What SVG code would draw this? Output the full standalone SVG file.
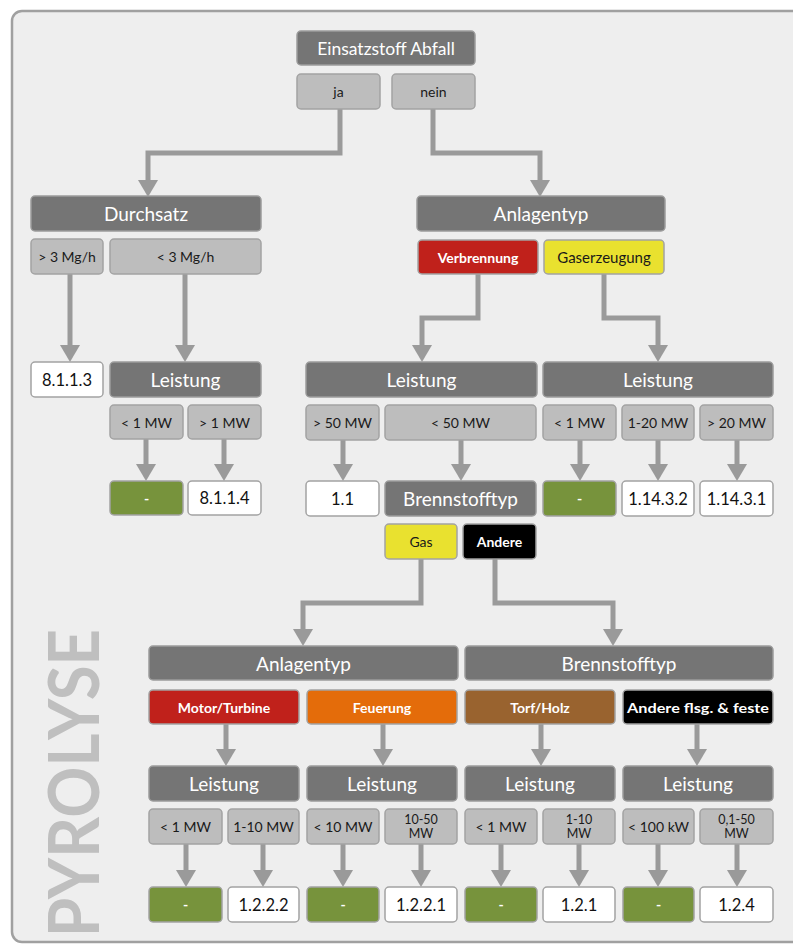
<svg xmlns="http://www.w3.org/2000/svg" width="793" height="945" viewBox="0 0 793 945">
<style>
text{font-family:Lato,"Open Sans","Liberation Sans",sans-serif;text-anchor:middle;dominant-baseline:central}
.dk{fill:#757575;stroke:#9c9c9c;stroke-width:1.5}
.lt{fill:#bdbdbd;stroke:#a3a3a3;stroke-width:1.5}
.wh{fill:#ffffff;stroke:#a3a3a3;stroke-width:1.5}
.gr{fill:#77933c;stroke:#a3a3a3;stroke-width:1.5}
.rd{fill:#c0211b;stroke:#a3a3a3;stroke-width:1.5}
.ye{fill:#e9e12f;stroke:#a3a3a3;stroke-width:1.5}
.or{fill:#e46c0a;stroke:#a3a3a3;stroke-width:1.5}
.br{fill:#99632f;stroke:#a3a3a3;stroke-width:1.5}
.bk{fill:#000000;stroke:#a3a3a3;stroke-width:1.5}
.th{fill:#ffffff;font-size:19px}
.tl{fill:#1a1a1a;font-size:14px}
.t2{fill:#1a1a1a;font-size:12.5px}
.tw{fill:#111111;font-size:16.5px}
.tc{fill:#ffffff;font-size:14px;font-weight:bold}
.tcd{fill:#1a1a1a;font-size:14px}
.conn{fill:none;stroke:#9a9a9a;stroke-width:5}
</style>
<defs>
<marker id="ah" viewBox="0 0 17 20" refX="8" refY="10" markerWidth="17" markerHeight="20" markerUnits="userSpaceOnUse" orient="auto">
<polygon points="0,0 17,10 0,20" fill="#9a9a9a"/>
</marker>
</defs>
<rect x="0" y="0" width="793" height="945" fill="#ffffff"/>
<rect x="12" y="11" width="800" height="931" rx="10" fill="#eeeeee" stroke="#a0a0a0" stroke-width="2.5"/>
<text transform="translate(99,783) rotate(-90)" x="0" y="0" style="dominant-baseline:auto;font-size:70px;font-weight:bold;fill:#bfbfbf" textLength="308" lengthAdjust="spacingAndGlyphs">PYROLYSE</text>

<g id="connectors" marker-end="url(#ah)">
<path class="conn" d="M340,109 V153 H148 V188"/>
<path class="conn" d="M433,109 V153 H540 V188"/>
<path class="conn" d="M70,274 V353"/>
<path class="conn" d="M185,274 V353"/>
<path class="conn" d="M146,439 V472"/>
<path class="conn" d="M224,439 V472"/>
<path class="conn" d="M478,274 V318 H422 V353"/>
<path class="conn" d="M604,274 V318 H658 V353"/>
<path class="conn" d="M343,440 V472"/>
<path class="conn" d="M461,440 V472"/>
<path class="conn" d="M580,440 V472"/>
<path class="conn" d="M658,440 V472"/>
<path class="conn" d="M737,440 V472"/>
<path class="conn" d="M421,559 V603 H303 V637"/>
<path class="conn" d="M495,559 V603 H613 V637"/>
<path class="conn" d="M226,724 V757"/>
<path class="conn" d="M383,724 V757"/>
<path class="conn" d="M541,724 V757"/>
<path class="conn" d="M697,724 V757"/>
<path class="conn" d="M186,844 V878"/>
<path class="conn" d="M263,844 V878"/>
<path class="conn" d="M343,844 V878"/>
<path class="conn" d="M421,844 V878"/>
<path class="conn" d="M501,844 V878"/>
<path class="conn" d="M579,844 V878"/>
<path class="conn" d="M658,844 V878"/>
<path class="conn" d="M737,844 V878"/>
</g>

<g id="n_einsatz"><rect class="dk" x="297" y="31" width="178" height="34" rx="4"/><text class="th" x="386" y="48" style="font-size:17.5px">Einsatzstoff Abfall</text></g>
<g id="n_ja"><rect class="lt" x="297" y="74" width="83" height="35" rx="4"/><text class="tl" x="338.5" y="91.5">ja</text></g>
<g id="n_nein"><rect class="lt" x="392" y="74" width="83" height="35" rx="4"/><text class="tl" x="433.5" y="91.5">nein</text></g>

<g id="n_durchsatz"><rect class="dk" x="31" y="196" width="230" height="35" rx="4"/><text class="th" x="146" y="213.5">Durchsatz</text></g>
<g id="n_gt3"><rect class="lt" x="31" y="239" width="72" height="35" rx="4"/><text class="tl" x="67" y="256.5">&gt; 3 Mg/h</text></g>
<g id="n_lt3"><rect class="lt" x="110" y="239" width="151" height="35" rx="4"/><text class="tl" x="185.5" y="256.5">&lt; 3 Mg/h</text></g>
<g id="n_8113"><rect class="wh" x="31" y="362" width="72" height="35" rx="4"/><text class="tw" x="67" y="379.5">8.1.1.3</text></g>
<g id="n_leist1"><rect class="dk" x="110" y="362" width="151" height="35" rx="4"/><text class="th" x="185.5" y="379.5">Leistung</text></g>
<g id="n_lt1a"><rect class="lt" x="110" y="405" width="73" height="34" rx="4"/><text class="tl" x="146.5" y="422">&lt; 1 MW</text></g>
<g id="n_gt1a"><rect class="lt" x="188" y="405" width="73" height="34" rx="4"/><text class="tl" x="224.5" y="422">&gt; 1 MW</text></g>
<g id="n_dash1"><rect class="gr" x="110" y="481" width="73" height="34" rx="4"/><text class="tc" x="146.5" y="498">-</text></g>
<g id="n_8114"><rect class="wh" x="188" y="481" width="73" height="34" rx="4"/><text class="tw" x="224.5" y="498">8.1.1.4</text></g>

<g id="n_anlagentyp"><rect class="dk" x="417" y="196" width="248" height="35" rx="4"/><text class="th" x="541" y="213.5">Anlagentyp</text></g>
<g id="n_verbrennung"><rect class="rd" x="418" y="240" width="120" height="34" rx="4"/><text class="tc" x="478" y="257">Verbrennung</text></g>
<g id="n_gaserzeugung"><rect class="ye" x="544" y="240" width="120" height="34" rx="4"/><text class="tcd" x="604" y="257" style="font-size:15px">Gaserzeugung</text></g>
<g id="n_leist2"><rect class="dk" x="306" y="362" width="231" height="35" rx="4"/><text class="th" x="421.5" y="379.5">Leistung</text></g>
<g id="n_leist3"><rect class="dk" x="543" y="362" width="230" height="35" rx="4"/><text class="th" x="658" y="379.5">Leistung</text></g>
<g id="n_gt50"><rect class="lt" x="306" y="405" width="73" height="35" rx="4"/><text class="tl" x="342.5" y="422.5">&gt; 50 MW</text></g>
<g id="n_lt50"><rect class="lt" x="385" y="405" width="151" height="35" rx="4"/><text class="tl" x="460.5" y="422.5">&lt; 50 MW</text></g>
<g id="n_lt1b"><rect class="lt" x="543" y="405" width="73" height="35" rx="4"/><text class="tl" x="579.5" y="422.5">&lt; 1 MW</text></g>
<g id="n_1_20"><rect class="lt" x="622" y="405" width="72" height="35" rx="4"/><text class="tl" x="658" y="422.5">1-20 MW</text></g>
<g id="n_gt20"><rect class="lt" x="700" y="405" width="73" height="35" rx="4"/><text class="tl" x="736.5" y="422.5">&gt; 20 MW</text></g>
<g id="n_11"><rect class="wh" x="306" y="481" width="73" height="35" rx="4"/><text class="tw" x="342.5" y="498.5">1.1</text></g>
<g id="n_brennstoff1"><rect class="dk" x="385" y="481" width="151" height="35" rx="4"/><text class="th" x="460.5" y="498.5">Brennstofftyp</text></g>
<g id="n_dash2"><rect class="gr" x="543" y="481" width="73" height="35" rx="4"/><text class="tc" x="579.5" y="498.5">-</text></g>
<g id="n_11432"><rect class="wh" x="622" y="481" width="72" height="35" rx="4"/><text class="tw" x="658" y="498.5">1.14.3.2</text></g>
<g id="n_11431"><rect class="wh" x="700" y="481" width="73" height="35" rx="4"/><text class="tw" x="736.5" y="498.5">1.14.3.1</text></g>
<g id="n_gas"><rect class="ye" x="385" y="524" width="72" height="35" rx="4"/><text class="tcd" x="421" y="541.5">Gas</text></g>
<g id="n_andere"><rect class="bk" x="463" y="524" width="73" height="35" rx="4"/><text class="tc" x="499.5" y="541.5">Andere</text></g>

<g id="n_anlagentyp2"><rect class="dk" x="149" y="646" width="309" height="34" rx="4"/><text class="th" x="303.5" y="663">Anlagentyp</text></g>
<g id="n_brennstoff2"><rect class="dk" x="465" y="646" width="308" height="34" rx="4"/><text class="th" x="619" y="663">Brennstofftyp</text></g>
<g id="n_motor"><rect class="rd" x="149" y="690" width="150" height="34" rx="4"/><text class="tc" x="224" y="707">Motor/Turbine</text></g>
<g id="n_feuerung"><rect class="or" x="307" y="690" width="150" height="34" rx="4"/><text class="tc" x="382" y="707">Feuerung</text></g>
<g id="n_torf"><rect class="br" x="465" y="690" width="150" height="34" rx="4"/><text class="tc" x="540" y="707">Torf/Holz</text></g>
<g id="n_andere2"><rect class="bk" x="623" y="690" width="150" height="34" rx="4"/><text class="tc" x="698" y="707" textLength="142" lengthAdjust="spacingAndGlyphs">Andere flsg. &amp; feste</text></g>
<g id="n_leist4"><rect class="dk" x="149" y="766" width="150" height="35" rx="4"/><text class="th" x="224" y="783.5">Leistung</text></g>
<g id="n_leist5"><rect class="dk" x="307" y="766" width="150" height="35" rx="4"/><text class="th" x="382" y="783.5">Leistung</text></g>
<g id="n_leist6"><rect class="dk" x="465" y="766" width="150" height="35" rx="4"/><text class="th" x="540" y="783.5">Leistung</text></g>
<g id="n_leist7"><rect class="dk" x="623" y="766" width="150" height="35" rx="4"/><text class="th" x="698" y="783.5">Leistung</text></g>
<g id="n_lt1c"><rect class="lt" x="149" y="809" width="73" height="35" rx="4"/><text class="tl" x="185.5" y="826.5">&lt; 1 MW</text></g>
<g id="n_1_10a"><rect class="lt" x="228" y="809" width="71" height="35" rx="4"/><text class="tl" x="263.5" y="826.5">1-10 MW</text></g>
<g id="n_lt10"><rect class="lt" x="307" y="809" width="72" height="35" rx="4"/><text class="tl" x="343" y="826.5">&lt; 10 MW</text></g>
<g id="n_10_50"><rect class="lt" x="385" y="809" width="72" height="35" rx="4"/><text class="t2" x="421" y="819">10-50</text><text class="t2" x="421" y="833">MW</text></g>
<g id="n_lt1d"><rect class="lt" x="465" y="809" width="72" height="35" rx="4"/><text class="tl" x="501" y="826.5">&lt; 1 MW</text></g>
<g id="n_1_10b"><rect class="lt" x="543" y="809" width="72" height="35" rx="4"/><text class="t2" x="579" y="819">1-10</text><text class="t2" x="579" y="833">MW</text></g>
<g id="n_lt100"><rect class="lt" x="623" y="809" width="71" height="35" rx="4"/><text class="tl" x="658.5" y="826.5">&lt; 100 kW</text></g>
<g id="n_01_50"><rect class="lt" x="700" y="809" width="73" height="35" rx="4"/><text class="t2" x="736.5" y="819">0,1-50</text><text class="t2" x="736.5" y="833">MW</text></g>
<g id="n_dash3"><rect class="gr" x="149" y="887" width="73" height="35" rx="4"/><text class="tc" x="185.5" y="904.5">-</text></g>
<g id="n_1222"><rect class="wh" x="228" y="887" width="71" height="35" rx="4"/><text class="tw" x="263.5" y="904.5">1.2.2.2</text></g>
<g id="n_dash4"><rect class="gr" x="307" y="887" width="72" height="35" rx="4"/><text class="tc" x="343" y="904.5">-</text></g>
<g id="n_1221"><rect class="wh" x="385" y="887" width="72" height="35" rx="4"/><text class="tw" x="421" y="904.5">1.2.2.1</text></g>
<g id="n_dash5"><rect class="gr" x="465" y="887" width="72" height="35" rx="4"/><text class="tc" x="501" y="904.5">-</text></g>
<g id="n_121"><rect class="wh" x="543" y="887" width="72" height="35" rx="4"/><text class="tw" x="579" y="904.5">1.2.1</text></g>
<g id="n_dash6"><rect class="gr" x="623" y="887" width="71" height="35" rx="4"/><text class="tc" x="658.5" y="904.5">-</text></g>
<g id="n_124"><rect class="wh" x="700" y="887" width="73" height="35" rx="4"/><text class="tw" x="736.5" y="904.5">1.2.4</text></g>
</svg>
